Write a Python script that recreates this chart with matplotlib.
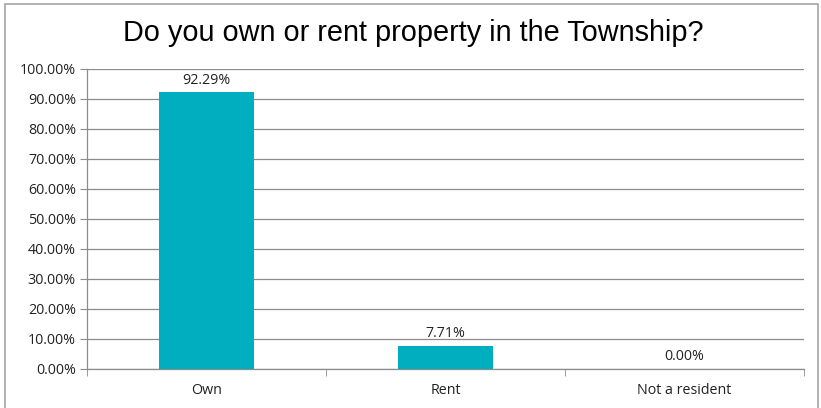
import matplotlib.pyplot as plt
from matplotlib.ticker import FuncFormatter, FixedLocator
from matplotlib.patches import Rectangle

categories = ["Own", "Rent", "Not a resident"]
shares = [92.29, 7.71, 0.00]
y_ticks = [0, 10, 20, 30, 40, 50, 60, 70, 80, 90, 100]

W, H = 821, 408
fig = plt.figure(figsize=(W / 100, H / 100), dpi=100)
fig.patch.set_facecolor("white")

# outer chart border
fig.add_artist(Rectangle((5 / W, -0.02), (818 - 5) / W, 1.02 - 4 / H,
                         transform=fig.transFigure, fill=False,
                         edgecolor="#a6a6a6", linewidth=1.2))

left, right, top, bottom = 87, 804, 69, 369
ax = fig.add_axes([left / W, 1 - bottom / H, (right - left) / W, (bottom - top) / H])

x = list(range(len(categories)))
ax.bar(x, shares, width=0.4, color="#00afbf", zorder=3)
ax.set_xlim(-0.5, len(categories) - 0.5)
ax.set_ylim(0, 100)

for xi, v in zip(x, shares):
    ax.text(xi, v + 1.5, f"{v:.2f}%", ha="center", va="bottom",
            fontsize=10.3, family="Open Sans", color="#222222")

ax.set_yticks(y_ticks)
ax.yaxis.set_major_formatter(FuncFormatter(lambda v, p: f"{v:.2f}%"))
ax.yaxis.grid(True, color="#8c8c8c", linewidth=0.9, zorder=0)
ax.set_xticks(x)
ax.set_xticklabels(categories)
ax.xaxis.set_minor_locator(FixedLocator([-0.5, 0.5, 1.5, 2.5]))
ax.tick_params(axis="x", which="major", length=0, pad=10)
ax.tick_params(axis="x", which="minor", length=5, color="#8c8c8c", direction="out")
ax.tick_params(axis="y", length=5, color="#8c8c8c", pad=3)
for lbl in ax.get_xticklabels() + ax.get_yticklabels():
    lbl.set_fontfamily("Open Sans")
    lbl.set_fontsize(10.3)
    lbl.set_color("#222222")

for side in ["top", "right"]:
    ax.spines[side].set_visible(False)
for side in ["left", "bottom"]:
    ax.spines[side].set_color("#8c8c8c")
    ax.spines[side].set_linewidth(0.9)

fig.text(413 / W, 1 - 33 / H, "Do you own or rent property in the Township?",
         ha="center", va="center", fontsize=20.8, family="Liberation Sans",
         color="#000000")

fig.savefig("out.png", dpi=100)
